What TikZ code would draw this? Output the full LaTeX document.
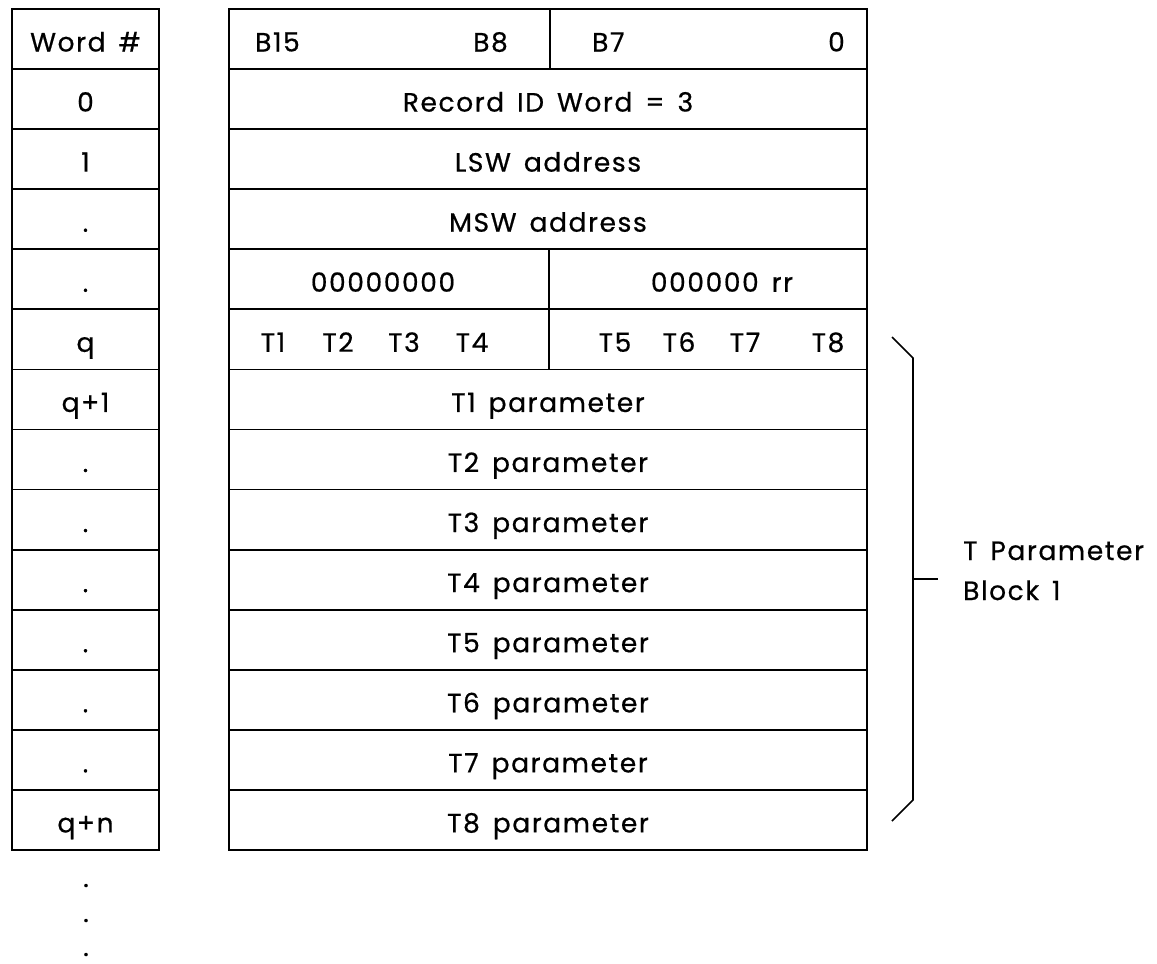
\documentclass[tikz,border=0pt]{standalone}
\usepackage{fontspec}
\setmainfont{Poppins}[LetterSpace=6, WordSpace=1.5, FakeBold=0.6]
\begin{document}
\begin{tikzpicture}[x=1pt,y=-1pt,
  cell/.style={draw, line width=1.8pt},
  brk/.style={draw, line width=1.6pt},
  lbl/.style={anchor=base, inner sep=0pt, font=\fontsize{26.5}{30}\selectfont},
  lblw/.style={lbl, anchor=base west},
  lble/.style={lbl, anchor=base east}]
\useasboundingbox (0,0) rectangle (1157,964);
\def\rh{60.07}
% grid
\foreach \i in {0,...,13}{
  \draw[cell] (12,{9+\rh*\i}) rectangle (159,{9+\rh*(\i+1)});
  \draw[cell] (229,{9+\rh*\i}) rectangle (867,{9+\rh*(\i+1)});
}
\draw[cell] (550,9) -- (550,{9+\rh});
\draw[cell] (549,{9+\rh*4}) -- (549,{9+\rh*6});
% left column labels
\foreach \t [count=\i from 0] in {Word \#,0,1,.,.,q,q+1,.,.,.,.,.,.,q+n}{
  \node[lbl] (w\i) at (85.5,{51.5+\rh*\i}) {\t};
}
% header
\node[lblw] (b15) at (255,51.5) {B15};
\node[lble] (b8) at (508,51.5) {B8};
\node[lblw] (b7) at (592,51.5) {B7};
\node[lble] (b0) at (845,51.5) {0};
% full-width rows
\node[lbl] (r1) at (548,{51.5+\rh*1}) {Record ID Word = 3};
\node[lbl] (r2) at (548,{51.5+\rh*2}) {LSW address};
\node[lbl] (r3) at (548,{51.5+\rh*3}) {MSW address};
\node[lbl] (r4a) at (383,{51.5+\rh*4}) {00000000};
\node[lbl] (r4b) at (722,{51.5+\rh*4}) {000000 rr};
\node[lbl] (t1) at (273,{51.5+\rh*5}) {T1};
\node[lbl] (t2) at (338,{51.5+\rh*5}) {T2};
\node[lbl] (t3) at (404,{51.5+\rh*5}) {T3};
\node[lbl] (t4) at (472,{51.5+\rh*5}) {T4};
\node[lbl] (t5) at (615,{51.5+\rh*5}) {T5};
\node[lbl] (t6) at (679,{51.5+\rh*5}) {T6};
\node[lbl] (t7) at (745,{51.5+\rh*5}) {T7};
\node[lbl] (t8) at (828,{51.5+\rh*5}) {T8};
\foreach \k in {1,...,8}{
  \node[lbl] (p\k) at (548,{51.5+\rh*(\k+5)}) {T\k\ parameter};
}
% bracket
\coordinate (ba) at (892,337);
\coordinate (bb) at (913,358);
\coordinate (bc) at (913,800);
\coordinate (bd) at (892,821);
\coordinate (bm) at (913,579);
\coordinate (bt) at (938,579);
\draw[brk] (ba) -- (bb) -- (bc) -- (bd);
\draw[brk] (bm) -- (bt);
\node[lblw] (tp) at (963,560) {T Parameter};
\node[lblw] (bl) at (963,600) {Block 1};
% continuation dots
\node[lbl] (d1) at (86,887) {.};
\node[lbl] (d2) at (86,922) {.};
\node[lbl] (d3) at (86,956) {.};
\end{tikzpicture}
\end{document}
